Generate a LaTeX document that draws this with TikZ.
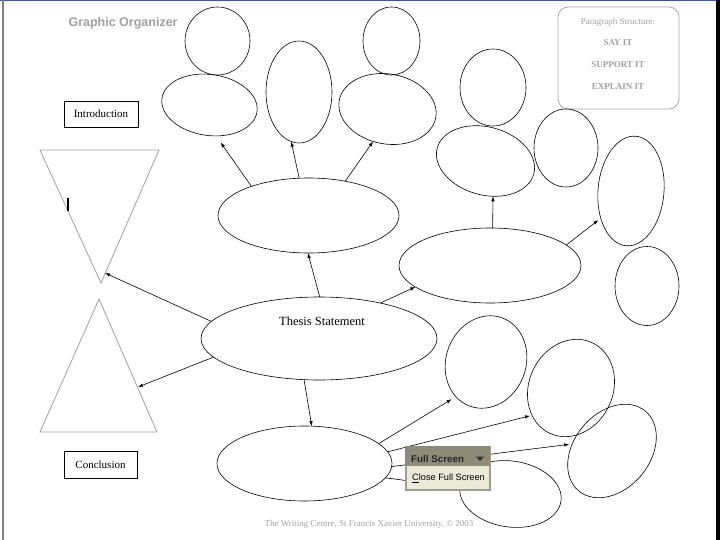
\documentclass[tikz,border=0pt]{standalone}
\usepackage{fontspec}
\setmainfont{Liberation Serif}
\setsansfont{Liberation Sans}
\usetikzlibrary{shapes.geometric,arrows.meta}
\definecolor{pale}{RGB}{160,160,160}
\definecolor{barcol}{RGB}{141,139,120}
\definecolor{menucol}{RGB}{236,233,216}
\definecolor{edgecol}{RGB}{157,157,143}
\definecolor{topline}{RGB}{58,88,150}
\tikzset{
  blob/.style={draw, ellipse, inner sep=0pt, outer sep=0pt, line width=0.6pt},
  labelbox/.style={draw, line width=0.6pt, minimum width=74pt, minimum height=26pt, inner sep=0pt, font=\fontsize{11}{12}\selectfont},
  link/.style={-{Latex[length=5pt,width=3.5pt]}, line width=0.6pt},
  hourglass/.style={draw=pale, line width=0.8pt},
  structtext/.style={text=pale, font=\bfseries\fontsize{9}{10}\selectfont},
}
\begin{document}
\begin{tikzpicture}[x=1pt,y=-1pt]
	\useasboundingbox (0,0) rectangle (720,540);
	\fill[white] (0,0) rectangle (720,540);
	\fill[topline] (0,0) rectangle (720,1.5);
	\fill[gray] (1.7,0) rectangle (3.7,540);
	\fill[black] (716,0) rectangle (720,540);

	\node[anchor=west, text=pale, font=\sffamily\bfseries\fontsize{12.5}{14}\selectfont] (title) at (65,23) {Graphic Organizer};
	\node[labelbox] (intro) at (101,114) {Introduction};
	\node[labelbox, minimum width=73pt, minimum height=27pt] (concl) at (100.5,464.5) {Conclusion};

	\draw[hourglass] (40,150) -- (159,150) -- (101,283) -- cycle;
	\draw[hourglass] (99,299) -- (157,432) -- (40,432) -- cycle;
	\coordinate (introtip) at (105,273);
	\coordinate (conctip) at (138,387);
	\draw[line width=1.3pt] (68,198) -- (68,211);

	\node[draw=pale!90, rounded corners=10pt, line width=0.8pt, minimum width=121pt, minimum height=102pt] (structure) at (618.5,58) {};
	\node[text=pale, font=\fontsize{9}{10}\selectfont] (structhead) at (618,22) {Paragraph Structure:};
	\node[structtext] (sayit) at (618,43) {SAY IT};
	\node[structtext] (supportit) at (618,65) {SUPPORT IT};
	\node[structtext] (explainit) at (618,87) {EXPLAIN IT};

	\node[blob, minimum width=236pt, minimum height=83pt] (thesis) at (319,338.5) {};
	\node[font=\fontsize{12.5}{14}\selectfont] (thesislabel) at (322,321) {Thesis Statement};

	\node[blob, minimum width=181pt, minimum height=75pt] (idea1) at (308.5,215.5) {};
	\node[blob, minimum width=65pt, minimum height=68pt] (a1) at (217.5,41) {};
	\node[blob, minimum width=96pt, minimum height=61pt, rotate=-8] (a2) at (209.5,105) {};
	\node[blob, minimum width=66pt, minimum height=102pt] (b1) at (299,92) {};
	\node[blob, minimum width=57pt, minimum height=68pt] (c1) at (391.5,41) {};
	\node[blob, minimum width=98pt, minimum height=70pt, rotate=-10] (c2) at (387.5,109) {};

	\node[blob, minimum width=182pt, minimum height=75pt] (idea2) at (490,265.5) {};
	\node[blob, minimum width=66pt, minimum height=77pt] (r1) at (493,87.5) {};
	\node[blob, minimum width=100pt, minimum height=68pt, rotate=-15] (r2) at (485.5,161) {};
	\node[blob, minimum width=64pt, minimum height=78pt] (r3) at (566,148) {};
	\node[blob, minimum width=66pt, minimum height=110pt, rotate=-5] (r4) at (631,191) {};
	\node[blob, minimum width=64pt, minimum height=79pt] (r5) at (647,286) {};

	\node[blob, minimum width=175pt, minimum height=75pt] (idea3) at (304.5,463.5) {};
	\node[blob, minimum width=80pt, minimum height=94pt, rotate=-20] (e1) at (486,362) {};
	\node[blob, minimum width=84pt, minimum height=100pt, rotate=-25] (e2) at (571,388) {};
	\node[blob, minimum width=76pt, minimum height=104pt, rotate=-40] (e3) at (612,451) {};
	\node[blob, minimum width=102pt, minimum height=66pt, rotate=-8] (e4) at (510.5,494) {};

	\draw[link, shorten >=8pt] (idea1.153) -- (a2.-70);
	\draw[link] (idea1.104) -- (b1.-99);
	\draw[link] (idea1.43) -- (c2.-104);
	\draw[link] (thesis.89) -- (idea1.-91);
	\draw[link] (thesis.30) -- (idea2.196);
	\draw[link] (thesis.171) -- (introtip);
	\draw[link] (thesis.190) -- (conctip);
	\draw[link] (thesis.-110) -- (idea3.79);
	\draw[link] (idea2.86) -- (r2.-63);
	\draw[link, shorten >=3pt] (idea2.15) -- (r4.227);
	\draw[link, shorten >=5pt] (idea3.15) -- (e1.249);
	\draw[link, shorten >=2pt] (idea3.8) -- (e2.240);
	\draw[link, shorten >=3pt] (idea3.-2) -- (e3.210);
	\draw[link] (idea3.-10) -- (e4.181);

	\node[draw=edgecol, line width=1.2pt, fill=menucol, minimum width=84pt, minimum height=43pt, inner sep=0pt] (menu) at (448,468.5) {};
	\fill[barcol] (menu.north west) rectangle (490,466);
	\node[anchor=west, inner sep=0pt, text=black!85, font=\sffamily\bfseries\fontsize{9.8}{11}\selectfont] (fullscreen) at (411,458.5) {Full Screen};
	\fill[black!80] (476,456.5) -- (484,456.5) -- (480,461) -- cycle;
	\node[anchor=west, inner sep=0pt, font=\sffamily\fontsize{9.2}{11}\selectfont] (closefs) at (412,478) {\underline{C}lose Full Screen};

	\node[text=pale, font=\fontsize{9}{10}\selectfont] (footer) at (369,524) {The Writing Centre, St Francis Xavier University, \copyright\ 2003};
\end{tikzpicture}
\end{document}
